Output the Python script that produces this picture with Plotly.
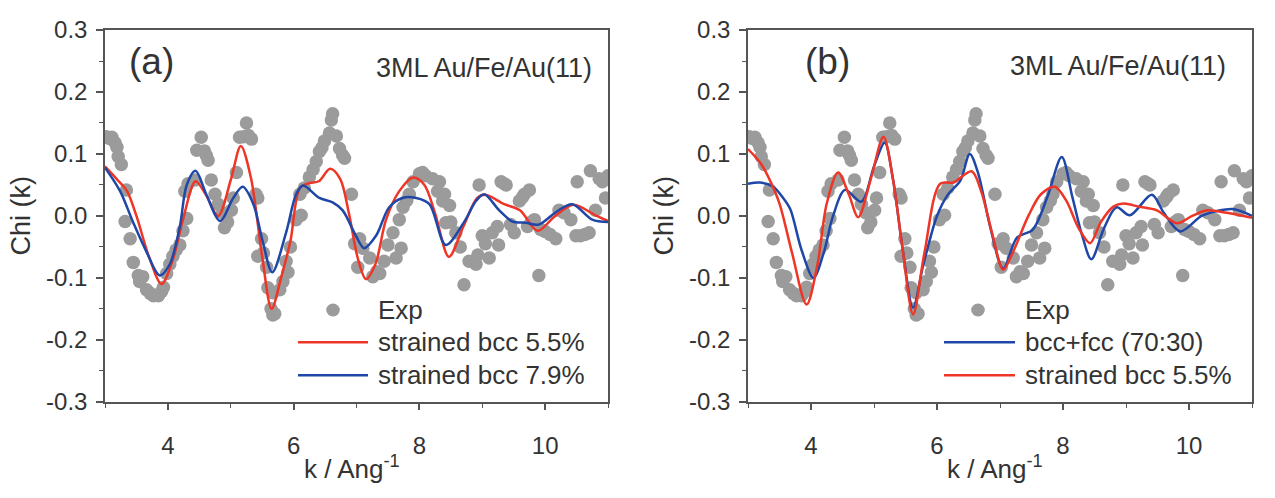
import plotly.graph_objects as go

W, H = 1275, 498

# ---------------- data ----------------
exp_k = [3.02, 3.07, 3.11, 3.16, 3.19, 3.21, 3.26, 3.32, 3.34, 3.40, 3.45, 3.53, 3.55, 3.60, 3.66, 3.72,
         3.77, 3.85, 3.90, 3.93, 3.98, 4.03, 4.08, 4.13, 4.19, 4.24, 4.27, 4.30, 4.32, 4.43, 4.46, 4.53,
         4.58, 4.61, 4.64, 4.69, 4.75, 4.80, 4.87, 4.90, 4.95, 5.01, 5.04, 5.09, 5.14, 5.20, 5.25, 5.28,
         5.33, 5.40, 5.43, 5.43, 5.49, 5.52, 5.57, 5.59, 5.64, 5.67, 5.67, 5.70, 5.78, 5.83, 5.88, 5.91,
         5.95, 6.04, 6.10, 6.12, 6.17, 6.25, 6.31, 6.36, 6.41, 6.45, 6.49, 6.57, 6.60, 6.62, 6.68, 6.73,
         6.78, 6.81, 6.92, 6.97, 7.02, 7.05, 7.10, 7.21, 7.26, 7.32, 7.37, 7.44, 7.50, 7.58, 7.63, 7.68,
         7.71, 7.74, 7.80, 7.84, 7.90, 8.00, 8.05, 8.10, 8.21, 8.29, 8.32, 8.37, 8.40, 8.42, 8.48, 8.50,
         8.58, 8.65, 8.71, 8.79, 8.90, 8.93, 8.95, 9.00, 9.05, 9.11, 9.16, 9.24, 9.26, 9.30, 9.35, 9.38,
         9.45, 9.51, 9.59, 9.64, 9.67, 9.72, 9.75, 9.78, 9.83, 9.90, 9.93, 10.00, 10.08, 10.17, 10.22,
         10.30, 10.41, 10.49, 10.51, 10.56, 10.63, 10.70, 10.72, 10.80, 10.86, 10.91, 10.96, 11.00]
exp_chi = [0.128, 0.125, 0.127, 0.118, 0.111, 0.096, 0.083, -0.009, 0.042, -0.037, -0.075, -0.096, -0.106,
           -0.098, -0.119, -0.125, -0.129, -0.129, -0.122, -0.115, -0.093, -0.078, -0.065, -0.055, -0.047,
           -0.024, 0.040, -0.004, 0.052, 0.058, 0.106, 0.127, 0.105, 0.098, 0.090, 0.058, 0.035, 0.019,
           0.005, -0.019, -0.010, 0.009, 0.029, 0.070, 0.127, 0.128, 0.150, 0.130, 0.124, 0.035, 0.029,
           -0.065, -0.037, -0.060, -0.083, -0.116, -0.150, -0.124, -0.160, -0.158, -0.119, -0.106, -0.073,
           -0.091, -0.050, -0.006, 0.035, 0.001, 0.045, 0.063, 0.075, 0.088, 0.104, 0.110, 0.121, 0.134,
           0.155, 0.165, 0.129, 0.109, 0.098, 0.093, 0.035, -0.045, -0.083, -0.037, -0.052, -0.068,
           -0.098, -0.090, -0.093, -0.073, -0.047, -0.027, -0.068, -0.006, -0.052, 0.014, 0.025, 0.035,
           0.055, 0.068, 0.070, 0.065, 0.060, 0.040, 0.055, 0.024, 0.035, -0.011, 0.017, -0.010, -0.027,
           -0.050, -0.111, -0.073, -0.078, -0.063, 0.050, -0.032, -0.045, -0.068, -0.027, -0.017, -0.047,
           0.055, 0.052, 0.050, -0.014, -0.027, 0.024, 0.030, 0.035, -0.017, 0.042, -0.010, -0.006,
           -0.096, -0.022, -0.025, -0.030, -0.037, 0.009, 0.005, -0.006, -0.032, 0.055, -0.032, -0.030,
           -0.027, 0.073, 0.009, 0.060, 0.055, 0.029, 0.065]

# panel (a): strained bcc 5.5% (red)
a_red_k = [3.0, 3.2, 3.35, 3.5, 3.7, 3.9, 4.08, 4.24, 4.44, 4.6, 4.8, 5.0, 5.16, 5.32, 5.5, 5.65, 5.8,
           5.95, 6.1, 6.25, 6.4, 6.58, 6.74, 6.88, 7.02, 7.15, 7.3, 7.47, 7.68, 7.9, 8.08, 8.25, 8.47,
           8.7, 8.92, 9.05, 9.35, 9.6, 9.88, 10.15, 10.45, 10.8, 11.0]
a_red_chi = [0.080, 0.058, 0.040, 0.0, -0.066, -0.110, -0.070, -0.006, 0.056, 0.035, 0.0, 0.058, 0.113,
             0.062, -0.066, -0.150, -0.100, -0.040, 0.045, 0.053, 0.056, 0.076, 0.060, 0.004, -0.068,
             -0.102, -0.078, -0.006, 0.040, 0.062, 0.050, 0.004, -0.066, -0.017, 0.029, 0.034, 0.019,
             0.009, -0.024, -0.001, 0.018, 0.001, -0.008]
# panel (a): strained bcc 7.9% (blue)
a_blue_k = [3.0, 3.24, 3.45, 3.66, 3.87, 4.03, 4.19, 4.30, 4.44, 4.61, 4.83, 5.04, 5.19, 5.36, 5.51,
            5.66, 5.88, 6.04, 6.15, 6.41, 6.62, 6.78, 6.99, 7.12, 7.31, 7.52, 7.73, 7.95, 8.16, 8.42,
            8.71, 8.90, 9.03, 9.27, 9.48, 9.69, 9.90, 10.17, 10.43, 10.75, 11.0]
a_blue_chi = [0.078, 0.040, -0.011, -0.058, -0.096, -0.078, -0.017, 0.050, 0.073, 0.035, -0.008, 0.029,
              0.047, 0.019, -0.042, -0.091, -0.027, 0.035, 0.049, 0.029, 0.022, 0.009, -0.032, -0.052,
              -0.032, 0.014, 0.029, 0.029, 0.019, -0.047, -0.010, 0.024, 0.035, 0.009, -0.009, -0.011,
              -0.014, 0.006, 0.019, -0.006, -0.010]

# panel (b): bcc+fcc (70:30) (blue)
b_blue_k = [3.0, 3.19, 3.4, 3.55, 3.67, 3.85, 4.04, 4.2, 4.35, 4.54, 4.80, 5.0, 5.17, 5.3, 5.45, 5.62,
            5.78, 6.0, 6.17, 6.37, 6.52, 6.65, 6.85, 7.05, 7.27, 7.52, 7.75, 7.98, 8.15, 8.3, 8.45, 8.65,
            8.85, 9.06, 9.41, 9.6, 9.86, 10.2, 10.45, 10.70, 11.0]
b_blue_chi = [0.052, 0.054, 0.047, 0.030, 0.011, -0.055, -0.100, -0.060, 0.0, 0.042, 0.023, 0.080, 0.118,
              0.060, -0.050, -0.148, -0.080, 0.0, 0.034, 0.057, 0.100, 0.070, -0.020, -0.085, -0.035,
              -0.022, 0.030, 0.095, 0.030, -0.030, -0.070, -0.020, 0.014, 0.001, 0.034, 0.005, -0.025,
              0.0, 0.008, 0.011, 0.0]
# panel (b): strained bcc 5.5% (red)
b_red_k = [3.0, 3.2, 3.35, 3.5, 3.7, 3.93, 4.1, 4.25, 4.43, 4.6, 4.75, 4.95, 5.15, 5.3, 5.45, 5.62, 5.8,
           6.05, 6.26, 6.55, 6.7, 6.88, 7.05, 7.2, 7.45, 7.65, 7.87, 8.05, 8.25, 8.43, 8.6, 8.8, 8.96,
           9.2, 9.49, 9.81, 10.05, 10.29, 10.6, 11.0]
b_red_chi = [0.108, 0.085, 0.057, 0.020, -0.060, -0.143, -0.080, 0.020, 0.070, 0.035, -0.002, 0.060,
             0.128, 0.060, -0.050, -0.159, -0.060, 0.052, 0.054, 0.072, 0.040, -0.030, -0.087, -0.060,
             0.0, 0.035, 0.047, 0.025, -0.020, -0.044, -0.010, 0.015, 0.020, 0.015, 0.009, -0.012, 0.0,
             0.009, 0.005, -0.003]

x_tick_vals = [4, 6, 8, 10]
x_tick_text = ["4", "6", "8", "10"]
y_tick_vals = [-0.3, -0.2, -0.1, 0.0, 0.1, 0.2, 0.3]
y_tick_text = ["-0.3", "-0.2", "-0.1", "0.0", "0.1", "0.2", "0.3"]

panel_labels = ["(a)", "(b)"]
sample_label = "3ML Au/Fe/Au(11)"
legend_a = ["Exp", "strained bcc 5.5%", "strained bcc 7.9%"]
legend_b = ["Exp", "bcc+fcc (70:30)", "strained bcc 5.5%"]

# ---------------- style ----------------
RED = "#ee3526"
BLUE = "#1f47a8"
GREY = "#9b9b9b"
TXT = "#333333"
AX = "#555555"
FONT = "Liberation Sans, Arial, sans-serif"


def px(x):
    return x / W


def py(y):
    return 1 - y / H


fig = go.Figure()


def spline(k, c, color, xa, ya):
    fig.add_trace(go.Scatter(x=k, y=c, mode="lines", xaxis=xa, yaxis=ya,
                             line=dict(color=color, width=2.5, shape="spline", smoothing=0.9),
                             showlegend=False, hoverinfo="skip"))


for xa, ya in [("x", "y"), ("x2", "y2")]:
    fig.add_trace(go.Scatter(x=exp_k, y=exp_chi, mode="markers", xaxis=xa, yaxis=ya,
                             marker=dict(color=GREY, size=13.5, line=dict(width=0)),
                             showlegend=False, hoverinfo="skip"))

spline(a_red_k, a_red_chi, RED, "x", "y")
spline(a_blue_k, a_blue_chi, BLUE, "x", "y")
spline(b_blue_k, b_blue_chi, BLUE, "x2", "y2")
spline(b_red_k, b_red_chi, RED, "x2", "y2")

xdom = [[px(105), px(608)], [px(748), px(1252)]]
ydom = [py(410), py(17)]

common_x = dict(range=[3, 11], tickmode="array", tickvals=x_tick_vals, ticktext=x_tick_text,
                ticks="outside", ticklen=6, tickwidth=1.5, tickcolor=AX,
                minor=dict(ticks="outside", ticklen=4, tickwidth=1.2, tickcolor=AX, dtick=1, tick0=3),
                showline=True, linecolor=AX, linewidth=1.5, mirror=True, showgrid=False,
                zeroline=False, tickfont=dict(family=FONT, size=24, color=TXT),
                ticklabelstandoff=16)
common_y = dict(range=[-0.3, 0.3], tickmode="array", tickvals=y_tick_vals, ticktext=y_tick_text,
                ticks="outside", ticklen=7, tickwidth=1.5, tickcolor=AX,
                minor=dict(ticks="outside", ticklen=4, tickwidth=1.2, tickcolor=AX, dtick=0.05, tick0=-0.3),
                showline=True, linecolor=AX, linewidth=1.5, mirror=True, showgrid=False,
                zeroline=False, tickfont=dict(family=FONT, size=24, color=TXT),
                ticklabelstandoff=4)

fig.update_layout(
    width=W, height=H, margin=dict(l=0, r=0, t=0, b=0),
    paper_bgcolor="white", plot_bgcolor="white",
    xaxis=dict(domain=xdom[0], anchor="y", **common_x),
    yaxis=dict(domain=ydom, anchor="x", **common_y),
    xaxis2=dict(domain=xdom[1], anchor="y2", **common_x),
    yaxis2=dict(domain=ydom, anchor="x2", **common_y),
    showlegend=False,
)

ann = []
shapes = []
offsets = [0, 643]
for i, off in enumerate(offsets):
    # axis titles
    ann.append(dict(x=px(21 + off), y=py(213), xref="paper", yref="paper", text="Chi (k)",
                    textangle=-90, showarrow=False, font=dict(family=FONT, size=27, color=TXT),
                    xanchor="center", yanchor="middle"))
    ann.append(dict(x=px(352 + off), y=py(480), xref="paper", yref="paper",
                    text="k / Ang<sup>-1</sup>", showarrow=False,
                    font=dict(family=FONT, size=26, color=TXT), xanchor="center", yanchor="middle"))

# panel labels
ann.append(dict(x=px(127), y=py(50), xref="paper", yref="paper", text=panel_labels[0], showarrow=False,
                font=dict(family=FONT, size=37, color=TXT), xanchor="left", yanchor="middle"))
ann.append(dict(x=px(803), y=py(50), xref="paper", yref="paper", text=panel_labels[1], showarrow=False,
                font=dict(family=FONT, size=37, color=TXT), xanchor="left", yanchor="middle"))
ann.append(dict(x=px(594), y=py(57), xref="paper", yref="paper", text=sample_label, showarrow=False,
                font=dict(family=FONT, size=27, color=TXT), xanchor="right", yanchor="middle"))
ann.append(dict(x=px(1228), y=py(55), xref="paper", yref="paper", text=sample_label, showarrow=False,
                font=dict(family=FONT, size=27, color=TXT), xanchor="right", yanchor="middle"))

# manual legends
legends = [
    dict(dot=(333, 313), line_x=(298, 368), text_x=376, labels=legend_a, colors=[RED, BLUE]),
    dict(dot=(978, 313), line_x=(944, 1015), text_x=1023, labels=legend_b, colors=[BLUE, RED]),
]
for lg in legends:
    cx, cy = lg["dot"]
    r = 6.8
    shapes.append(dict(type="circle", xref="paper", yref="paper",
                       x0=px(cx - r), x1=px(cx + r), y0=py(cy + r), y1=py(cy - r),
                       fillcolor=GREY, line=dict(width=0)))
    ann.append(dict(x=px(lg["text_x"]), y=py(cy), xref="paper", yref="paper", text=lg["labels"][0],
                    showarrow=False, font=dict(family=FONT, size=26, color=TXT),
                    xanchor="left", yanchor="middle"))
    for j, yy in enumerate([347, 382]):
        shapes.append(dict(type="line", xref="paper", yref="paper",
                           x0=px(lg["line_x"][0]), x1=px(lg["line_x"][1]), y0=py(yy), y1=py(yy),
                           line=dict(color=lg["colors"][j], width=2.5)))
        ann.append(dict(x=px(lg["text_x"]), y=py(yy), xref="paper", yref="paper",
                        text=lg["labels"][j + 1], showarrow=False,
                        font=dict(family=FONT, size=26, color=TXT),
                        xanchor="left", yanchor="middle"))

fig.update_layout(annotations=ann, shapes=shapes)
fig.write_html("out.html")
